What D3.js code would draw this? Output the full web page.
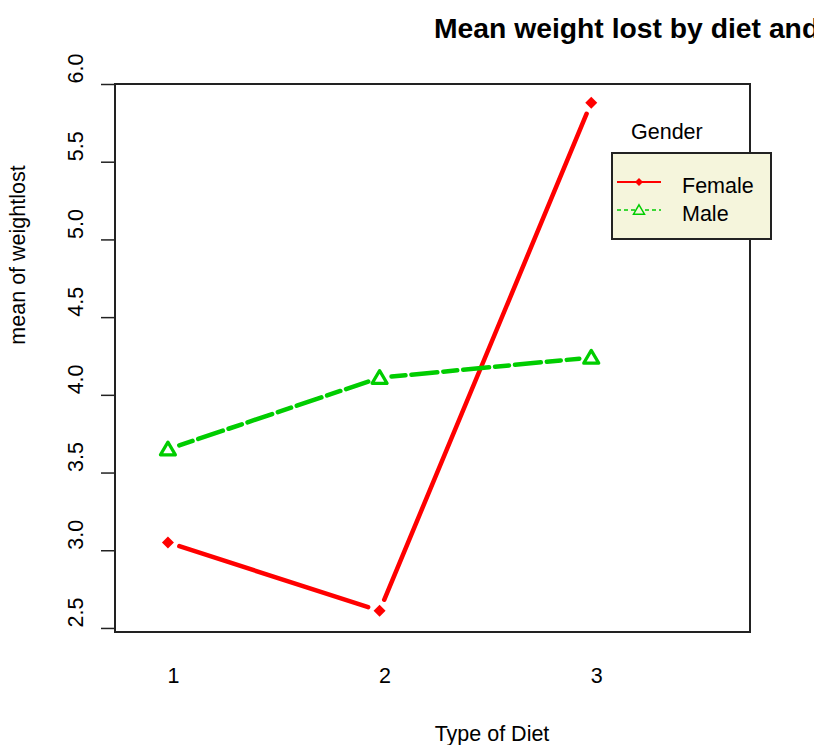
<!DOCTYPE html>
<html>
<head>
<meta charset="utf-8">
<script src="https://cdn.jsdelivr.net/npm/d3@7"></script>
<style>
  body { margin: 0; background: #fff; }
  text { font-family: Arial, "Liberation Sans", sans-serif; fill: #000; }
</style>
</head>
<body>
<div id="chart"></div>
<script>
// data
const diets = [1, 2, 3];
const femaleMeans = [3.05, 2.61, 5.88];
const maleMeans = [3.65, 4.11, 4.24];
const yTicks = [2.5, 3.0, 3.5, 4.0, 4.5, 5.0, 5.5, 6.0];
const genders = ['Female', 'Male'];

const w = 814, h = 745;
const box = { left: 115, right: 750, top: 84, bottom: 632 };

const svg = d3.select('#chart').append('svg')
  .attr('width', w)
  .attr('height', h);

const x = d3.scaleLinear().domain([0.75, 3.75]).range([box.left, box.right]);
const y = d3.scaleLinear().domain([2.474, 6.0]).range([box.bottom, box.top]);

// title (runs past the right edge, as in the original)
svg.append('text')
  .attr('x', 434)
  .attr('y', 38)
  .style('font-size', '28.3px')
  .style('font-weight', 'bold')
  .text('Mean weight lost by diet and gender');

// y axis
const yAxis = svg.append('g')
  .attr('transform', `translate(${box.left},0)`)
  .call(d3.axisLeft(y).tickValues(yTicks).tickSize(14).tickFormat(d3.format('.1f')));
yAxis.select('.domain').remove();
yAxis.selectAll('line').attr('stroke', '#222').attr('stroke-width', 1.5);
yAxis.selectAll('text')
  .attr('x', null).attr('dy', null)
  .attr('transform', 'translate(-32,-1) rotate(-90)')
  .attr('text-anchor', 'start')
  .style('font-size', '21.5px')
  .style('font-family', 'Arial, "Liberation Sans", sans-serif')
  .attr('fill', '#000');

// x axis: labels only
const xAxis = svg.append('g')
  .attr('transform', `translate(5,${box.bottom})`)
  .call(d3.axisBottom(x).tickValues(diets).tickSize(0).tickFormat(d3.format('d')));
xAxis.select('.domain').remove();
xAxis.selectAll('text')
  .attr('y', 51).attr('dy', null)
  .style('font-size', '21.5px')
  .style('font-family', 'Arial, "Liberation Sans", sans-serif')
  .attr('fill', '#000');

// axis titles
svg.append('text')
  .attr('x', 492)
  .attr('y', 741)
  .attr('text-anchor', 'middle')
  .style('font-size', '21.5px')
  .text('Type of Diet');

svg.append('text')
  .attr('transform', 'translate(25,255) rotate(-90)')
  .attr('text-anchor', 'middle')
  .style('font-size', '21.5px')
  .text('mean of weightlost');

// plot box
svg.append('rect')
  .attr('x', box.left)
  .attr('y', box.top)
  .attr('width', box.right - box.left)
  .attr('height', box.bottom - box.top)
  .attr('fill', 'none')
  .attr('stroke', '#222')
  .attr('stroke-width', 2);

// lines with gaps round each point (type = "b")
function gappedSegments(vals, gap) {
  const pts = vals.map((v, i) => [x(diets[i]), y(v)]);
  const segs = [];
  for (let i = 0; i < pts.length - 1; i++) {
    const [x0, y0] = pts[i], [x1, y1] = pts[i + 1];
    const len = Math.hypot(x1 - x0, y1 - y0);
    const ux = (x1 - x0) / len, uy = (y1 - y0) / len;
    segs.push([x0 + ux * gap, y0 + uy * gap, x1 - ux * gap, y1 - uy * gap]);
  }
  return segs;
}

const series = [
  { name: 'Female', vals: femaleMeans, color: '#ff0000', dash: null },
  { name: 'Male', vals: maleMeans, color: '#00cd00', dash: '14,6,26,6' }
];

series.forEach(s => {
  svg.append('g').selectAll('line')
    .data(gappedSegments(s.vals, 12))
    .enter().append('line')
    .attr('x1', d => d[0]).attr('y1', d => d[1])
    .attr('x2', d => d[2]).attr('y2', d => d[3])
    .attr('stroke', s.color)
    .attr('stroke-width', 4.5)
    .attr('stroke-linecap', 'round')
    .attr('stroke-dasharray', s.dash);
});

// markers
const diamond = r => `M0,${-r}L${r},0L0,${r}L${-r},0Z`;
const triangle = r => `M0,${-r * 0.95}L${r},${r * 0.75}L${-r},${r * 0.75}Z`;

svg.append('g').selectAll('path')
  .data(femaleMeans)
  .enter().append('path')
  .attr('transform', (d, i) => `translate(${x(diets[i])},${y(d)})`)
  .attr('d', diamond(6))
  .attr('fill', '#ff0000');

svg.append('g').selectAll('path')
  .data(maleMeans)
  .enter().append('path')
  .attr('transform', (d, i) => `translate(${x(diets[i])},${y(d)})`)
  .attr('d', triangle(7.5))
  .attr('fill', 'none')
  .attr('stroke', '#00cd00')
  .attr('stroke-width', 3.2)
  .attr('stroke-linejoin', 'round');

// legend
svg.append('text')
  .attr('x', 631)
  .attr('y', 139)
  .style('font-size', '21.5px')
  .text('Gender');

svg.append('rect')
  .attr('x', 612).attr('y', 153)
  .attr('width', 159).attr('height', 86)
  .attr('fill', '#f5f5dc')
  .attr('stroke', '#222')
  .attr('stroke-width', 2);

const legend = svg.selectAll('.legend')
  .data(genders)
  .enter().append('g')
  .attr('class', 'legend')
  .attr('transform', (d, i) => `translate(0,${182 + i * 28})`);

legend.append('line')
  .attr('x1', 617).attr('x2', 661)
  .attr('stroke', (d, i) => series[i].color)
  .attr('stroke-width', (d, i) => i === 0 ? 2 : 1.5)
  .attr('stroke-dasharray', (d, i) => i === 0 ? null : '4,3');

legend.append('path')
  .attr('transform', 'translate(639,0)')
  .attr('d', (d, i) => i === 0 ? diamond(4) : triangle(5.5))
  .attr('fill', (d, i) => i === 0 ? '#ff0000' : '#f5f5dc')
  .attr('stroke', (d, i) => i === 0 ? 'none' : '#00cd00')
  .attr('stroke-width', 1.5);

legend.append('text')
  .attr('x', 682)
  .attr('y', 11)
  .style('font-size', '21.5px')
  .text(d => d);
</script>
</body>
</html>
